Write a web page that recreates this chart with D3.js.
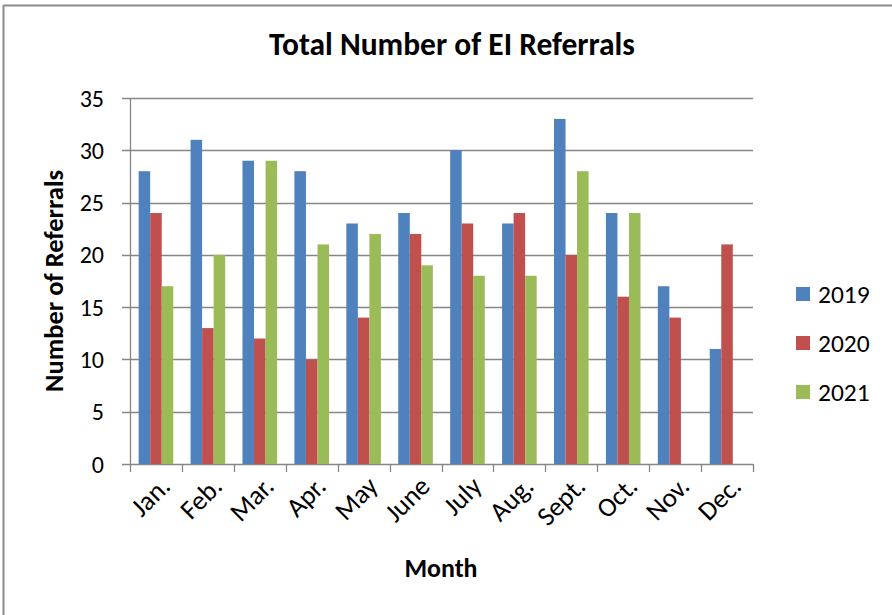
<!DOCTYPE html>
<html>
<head>
<meta charset="utf-8">
<script src="https://cdn.jsdelivr.net/npm/d3@7"></script>
<style>
  html, body { margin: 0; padding: 0; background: #fff; }
  svg { display: block; }
  text { font-family: Carlito, Calibri, Lato, "Open Sans", sans-serif; fill: #000; }
</style>
</head>
<body>
<svg id="chart" width="892" height="615"></svg>
<script>
const months = ["Jan.", "Feb.", "Mar.", "Apr.", "May", "June", "July", "Aug.", "Sept.", "Oct.", "Nov.", "Dec."];
const seriesNames = ["2019", "2020", "2021"];
const values2019 = [28, 31, 29, 28, 23, 24, 30, 23, 33, 24, 17, 11];
const values2020 = [24, 13, 12, 10, 14, 22, 23, 24, 20, 16, 14, 21];
const values2021 = [17, 20, 29, 21, 22, 19, 18, 18, 28, 24, null, null];
const yTicks = [0, 5, 10, 15, 20, 25, 30, 35];
const colors = ["#4F81BD", "#C0504D", "#9BBB59"];
const titleText = "Total Number of EI Referrals";
const xTitle = "Month";
const yTitle = "Number of Referrals";

const allSeries = [values2019, values2020, values2021];
const svg = d3.select("#chart");
const gridColor = "#868686";

// fit a text element's font size to a target width
function fitWidth(sel, target) {
  const node = sel.node();
  const fs = parseFloat(sel.attr("font-size"));
  const w = node.getComputedTextLength();
  if (w > 0) sel.attr("font-size", (fs * target / w).toFixed(2));
  return sel;
}

// outer frame (only top and left edges visible)
svg.append("line").attr("x1", 3.5).attr("x2", 892).attr("y1", 5.5).attr("y2", 5.5)
  .attr("stroke", "#8c8c8c").attr("stroke-width", 2);
svg.append("line").attr("x1", 3.5).attr("x2", 3.5).attr("y1", 5).attr("y2", 615)
  .attr("stroke", "#8c8c8c").attr("stroke-width", 2);

const plot = { left: 130, right: 753, top: 98, bottom: 464 };

const xCat = d3.scaleBand().domain(months).range([plot.left, plot.right]).padding(0);
const barW = xCat.bandwidth() / 4.5;
const x1 = d3.scaleBand().domain(seriesNames).range([0, barW * 3]).padding(0);
const y = d3.scaleLinear().domain([0, 35]).range([plot.bottom, plot.top]);

// gridlines
svg.append("g").selectAll("line").data(yTicks).join("line")
  .attr("x1", plot.left - 8).attr("x2", plot.right)
  .attr("y1", d => Math.round(y(d)) + 0.5).attr("y2", d => Math.round(y(d)) + 0.5)
  .attr("stroke", gridColor).attr("stroke-width", 1.3);

// y axis line
svg.append("line").attr("x1", plot.left + 0.5).attr("x2", plot.left + 0.5)
  .attr("y1", plot.top).attr("y2", plot.bottom + 0.5)
  .attr("stroke", gridColor).attr("stroke-width", 1.3);

// x ticks at category boundaries
const boundaries = months.map(m => xCat(m)).concat([plot.right]);
svg.append("g").selectAll("line").data(boundaries).join("line")
  .attr("x1", d => Math.round(d) + 0.5).attr("x2", d => Math.round(d) + 0.5)
  .attr("y1", plot.bottom).attr("y2", plot.bottom + 8)
  .attr("stroke", gridColor).attr("stroke-width", 1.3);

// bars
const groups = svg.append("g").selectAll("g").data(seriesNames).join("g")
  .attr("fill", (d, i) => colors[i]);
groups.each(function (s, si) {
  const vals = allSeries[si];
  d3.select(this).selectAll("rect").data(months.map((m, i) => ({ m, v: vals[i] })).filter(d => d.v != null))
    .join("rect")
    .attr("x", d => xCat(d.m) + barW * 0.75 + x1(s))
    .attr("width", barW)
    .attr("y", d => y(d.v))
    .attr("height", d => y(0) - y(d.v));
});

// y tick labels
svg.append("g").selectAll("text").data(yTicks).join("text")
  .attr("x", 104).attr("y", d => y(d)).attr("dy", "0.36em")
  .attr("text-anchor", "end").attr("font-size", 24).text(d => d);

// x tick labels rotated
svg.append("g").selectAll("text").data(months).join("text")
  .attr("transform", m => `translate(${xCat(m) + xCat.bandwidth() / 2 + 9},${plot.bottom + 17}) rotate(-45)`)
  .attr("text-anchor", "end").attr("dy", "0.36em").attr("font-size", 27).text(m => m);

// title
fitWidth(svg.append("text").attr("x", 452).attr("y", 55).attr("text-anchor", "middle")
  .attr("font-size", 30).attr("font-weight", "bold").text(titleText), 366);

// axis titles
fitWidth(svg.append("text").attr("x", 441).attr("y", 577).attr("text-anchor", "middle")
  .attr("font-size", 26).attr("font-weight", "bold").text(xTitle), 73);
fitWidth(svg.append("text").attr("transform", "translate(63,281) rotate(-90)").attr("text-anchor", "middle")
  .attr("font-size", 26).attr("font-weight", "bold").text(yTitle), 222);

// legend
const legend = svg.append("g").selectAll("g").data(seriesNames).join("g")
  .attr("transform", (d, i) => `translate(796,${294 + i * 49})`);
legend.append("rect").attr("x", 0).attr("y", -7).attr("width", 14).attr("height", 14)
  .attr("fill", (d, i) => colors[i]);
legend.append("text").attr("x", 22).attr("y", 0).attr("dy", "0.36em")
  .attr("font-size", 25.5).text(d => d);
</script>
</body>
</html>
